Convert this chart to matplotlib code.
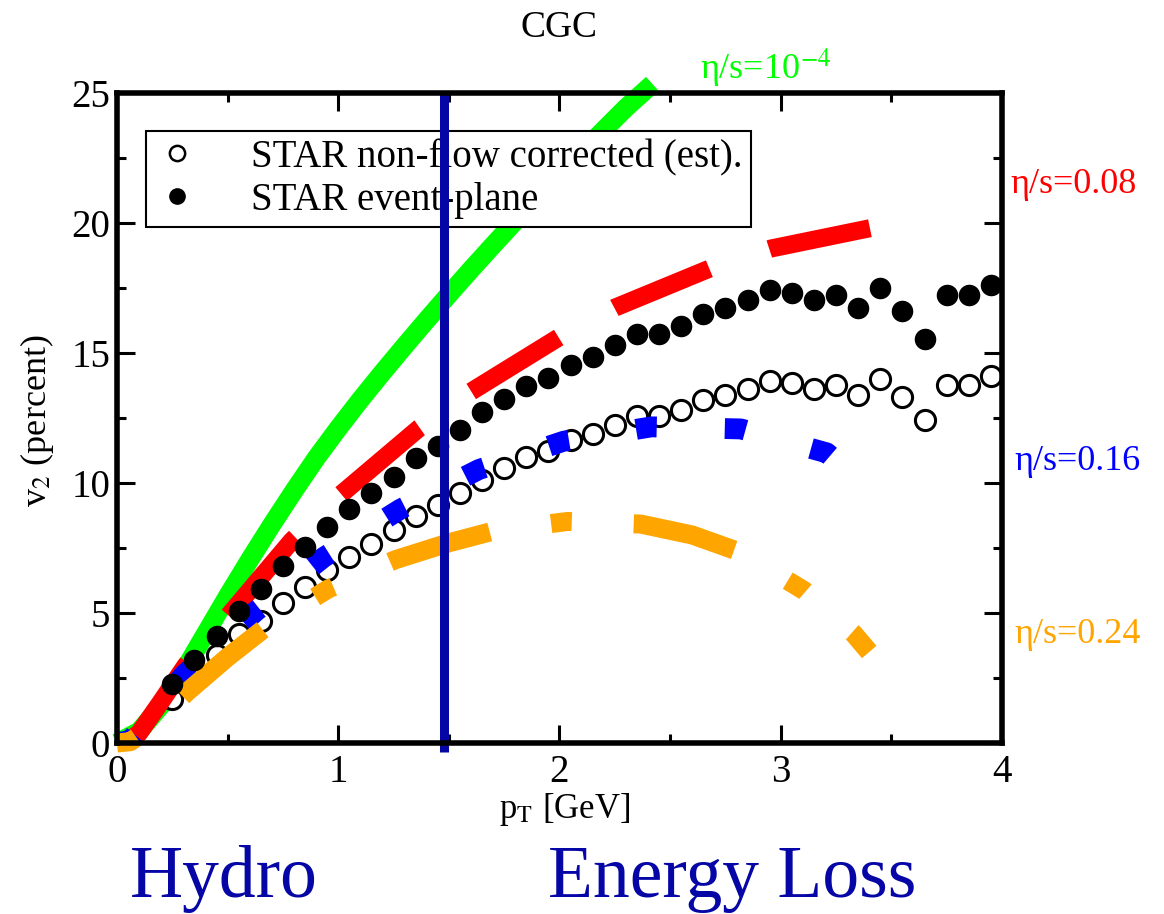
import matplotlib
matplotlib.use("Agg")
import matplotlib.pyplot as plt
from matplotlib.lines import Line2D

plt.rcParams['font.family'] = ['Liberation Serif', 'DejaVu Serif']
plt.rcParams['mathtext.fontset'] = 'stix'
plt.rcParams['lines.scale_dashes'] = False

# STAR data, pT bins every 0.1 GeV
pt_star = [0.25, 0.35, 0.45, 0.55, 0.65, 0.75, 0.85, 0.95, 1.05, 1.15,
           1.25, 1.35, 1.45, 1.55, 1.65, 1.75, 1.85, 1.95, 2.05, 2.15,
           2.25, 2.35, 2.45, 2.55, 2.65, 2.75, 2.85, 2.95, 3.05, 3.15,
           3.25, 3.35, 3.45, 3.55, 3.65, 3.75, 3.85, 3.95]
v2_ep = [2.25, 3.18, 4.11, 5.07, 5.91, 6.79, 7.52, 8.29, 8.99, 9.63,
         10.24, 10.97, 11.44, 12.04, 12.73, 13.23, 13.73, 14.03, 14.55, 14.83,
         15.31, 15.72, 15.72, 16.03, 16.51, 16.72, 17.04, 17.42, 17.32, 17.04,
         17.23, 16.72, 17.52, 16.62, 15.53, 17.23, 17.23, 17.61]
v2_nf = [1.70, 2.60, 3.37, 4.20, 4.70, 5.40, 6.00, 6.65, 7.16, 7.65,
         8.19, 8.74, 9.16, 9.60, 10.10, 10.59, 11.00, 11.23, 11.64, 11.87,
         12.25, 12.59, 12.59, 12.82, 13.20, 13.37, 13.61, 13.93, 13.84, 13.61,
         13.78, 13.37, 14.01, 13.30, 12.41, 13.78, 13.78, 14.10]

# viscous hydro curves
pt_eta0 = [0, 0.1, 0.2, 0.3, 0.4, 0.5, 0.6, 0.7, 0.8, 0.9, 1.0, 1.1, 1.2,
           1.3, 1.4, 1.5, 1.6, 1.7, 1.8, 1.9, 2.0, 2.1, 2.2, 2.3, 2.42]
v2_eta0 = [0, 0.45, 1.45, 2.75, 4.2, 5.65, 7.05, 8.4, 9.7, 10.95, 12.1, 13.2,
           14.25, 15.27, 16.27, 17.25, 18.21, 19.15, 20.07, 20.97, 21.85,
           22.72, 23.58, 24.43, 25.35]

pt_eta08 = [0, 0.05, 0.1, 0.2, 0.31, 0.496, 0.79, 1.009, 1.367, 1.597,
            1.997, 2.249, 2.688, 2.956, 3.42]
v2_eta08 = [0, 0.08, 0.38, 1.6, 2.98, 4.82, 7.78, 9.54, 12.12, 13.5,
            15.6, 16.74, 18.28, 19.02, 19.83]

pt_eta16 = [0, 0.06, 0.15, 0.3, 0.632, 0.934, 1.28, 1.636, 2.02, 2.416,
            2.82, 3.208, 3.23]
v2_eta16 = [0, 0.1, 1.0, 2.6, 5.1, 7.14, 8.99, 10.52, 11.61, 12.16,
            12.08, 11.16, 11.0]

pt_eta24 = [0, 0.06, 0.15, 0.318, 0.5, 0.677, 0.956, 1.258, 1.5, 1.709,
            2.036, 2.368, 2.6, 2.821, 3.106, 3.33, 3.40]
v2_eta24 = [0, 0.05, 0.6, 1.97, 3.3, 4.48, 5.93, 7.05, 7.7, 8.17,
            8.52, 8.42, 8.0, 7.33, 5.86, 4.2, 3.5]

pt_cut = 1.48
navy = '#0606a6'

fig = plt.figure(figsize=(11.64, 9.14), dpi=100)
ax = fig.add_axes([0.1005, 0.1871, 0.7603, 0.7111])

ax.plot(pt_eta0, v2_eta0, color='#00ff00', lw=13.7, solid_capstyle='butt',
        solid_joinstyle='round', clip_on=False, zorder=2)
ax.plot(pt_star, v2_nf, 'o', ms=14.5, mfc='white', mec='black', mew=2.2,
        ls='none', zorder=3)
# long dashes, pattern shifted a little so the first dash begins just past 0
ax.plot(pt_eta08, v2_eta08, color='red', lw=13,
        ls=(114.4, (74, 45.4)), dash_capstyle='butt', zorder=4)
ax.plot(pt_eta16, v2_eta16, color='blue', lw=15,
        ls=(0, (15, 49)), dash_capstyle='butt', zorder=5)
ax.plot(pt_eta24, v2_eta24, color='#ffa500', lw=13.7,
        ls=(0, (15, 44.6, 75, 44.6)), dash_capstyle='butt', clip_on=False,
        zorder=6)
ax.plot(pt_star, v2_ep, 'o', ms=14.5, color='black', ls='none', zorder=7)

ax.plot([pt_cut, pt_cut], [-0.35, 25], color=navy, lw=6.5,
        solid_capstyle='butt', clip_on=False, zorder=9)

ax.set_xlim(0, 4)
ax.set_ylim(0, 25)
ax.set_xticks([0, 1, 2, 3, 4])
ax.set_xticks([0.5, 1.5, 2.5, 3.5], minor=True)
ax.set_yticks([0, 5, 10, 15, 20, 25])
ax.set_yticks([2.5, 7.5, 12.5, 17.5, 22.5], minor=True)
ax.tick_params(which='both', direction='in', top=True, right=True,
               width=2.2, labelsize=28)
ax.tick_params(which='major', length=13)
ax.tick_params(which='minor', length=6.5)
ax.tick_params(axis='x', pad=8)
ax.tick_params(axis='y', pad=5)
for sp in ax.spines.values():
    sp.set_linewidth(4)
    sp.set_zorder(10)

handles = [
    Line2D([], [], marker='o', ls='none', ms=11, mfc='white', mec='black', mew=1.8),
    Line2D([], [], marker='o', ls='none', ms=11, color='black'),
]
leg = ax.legend(handles, ['STAR non-flow corrected (est).', 'STAR event-plane'],
                loc='upper left', bbox_to_anchor=(0.033, 0.9415),
                borderaxespad=0, fontsize=28, frameon=True, fancybox=False,
                framealpha=1, edgecolor='black', handlelength=1.2,
                handletextpad=1.3, labelspacing=0.15, borderpad=0.2)
leg.get_frame().set_linewidth(1.5)
leg.set_zorder(8)

W, H = 1164, 914
fig.text(565 / W, 1 - 818 / H, r'p$_\mathrm{T}$ [GeV]', fontsize=25,
         ha='center', va='baseline')
fig.text(37 / W, 1 - 421 / H, r'v$_\mathrm{2}$ (percent)', fontsize=26,
         ha='center', va='center', rotation=90)
fig.text(559 / W, 1 - 37 / H, 'CGC', fontsize=27, ha='center', va='baseline')

fig.text(700 / W, 1 - 80 / H, r'η/s=10$^\mathrm{-4}$', fontsize=26,
         color='#00ff00', va='baseline')
fig.text(1010 / W, 1 - 193 / H, 'η/s=0.08', fontsize=26, color='red',
         va='baseline')
fig.text(1014 / W, 1 - 470 / H, 'η/s=0.16', fontsize=26, color='blue',
         va='baseline')
fig.text(1014 / W, 1 - 643 / H, 'η/s=0.24', fontsize=26, color='#ffa500',
         va='baseline')

fig.text(130 / W, 1 - 897 / H, 'Hydro', fontsize=53, color=navy,
         va='baseline')
fig.text(548 / W, 1 - 897 / H, 'Energy Loss', fontsize=53, color=navy,
         va='baseline')

fig.savefig('out.png', dpi=100)
